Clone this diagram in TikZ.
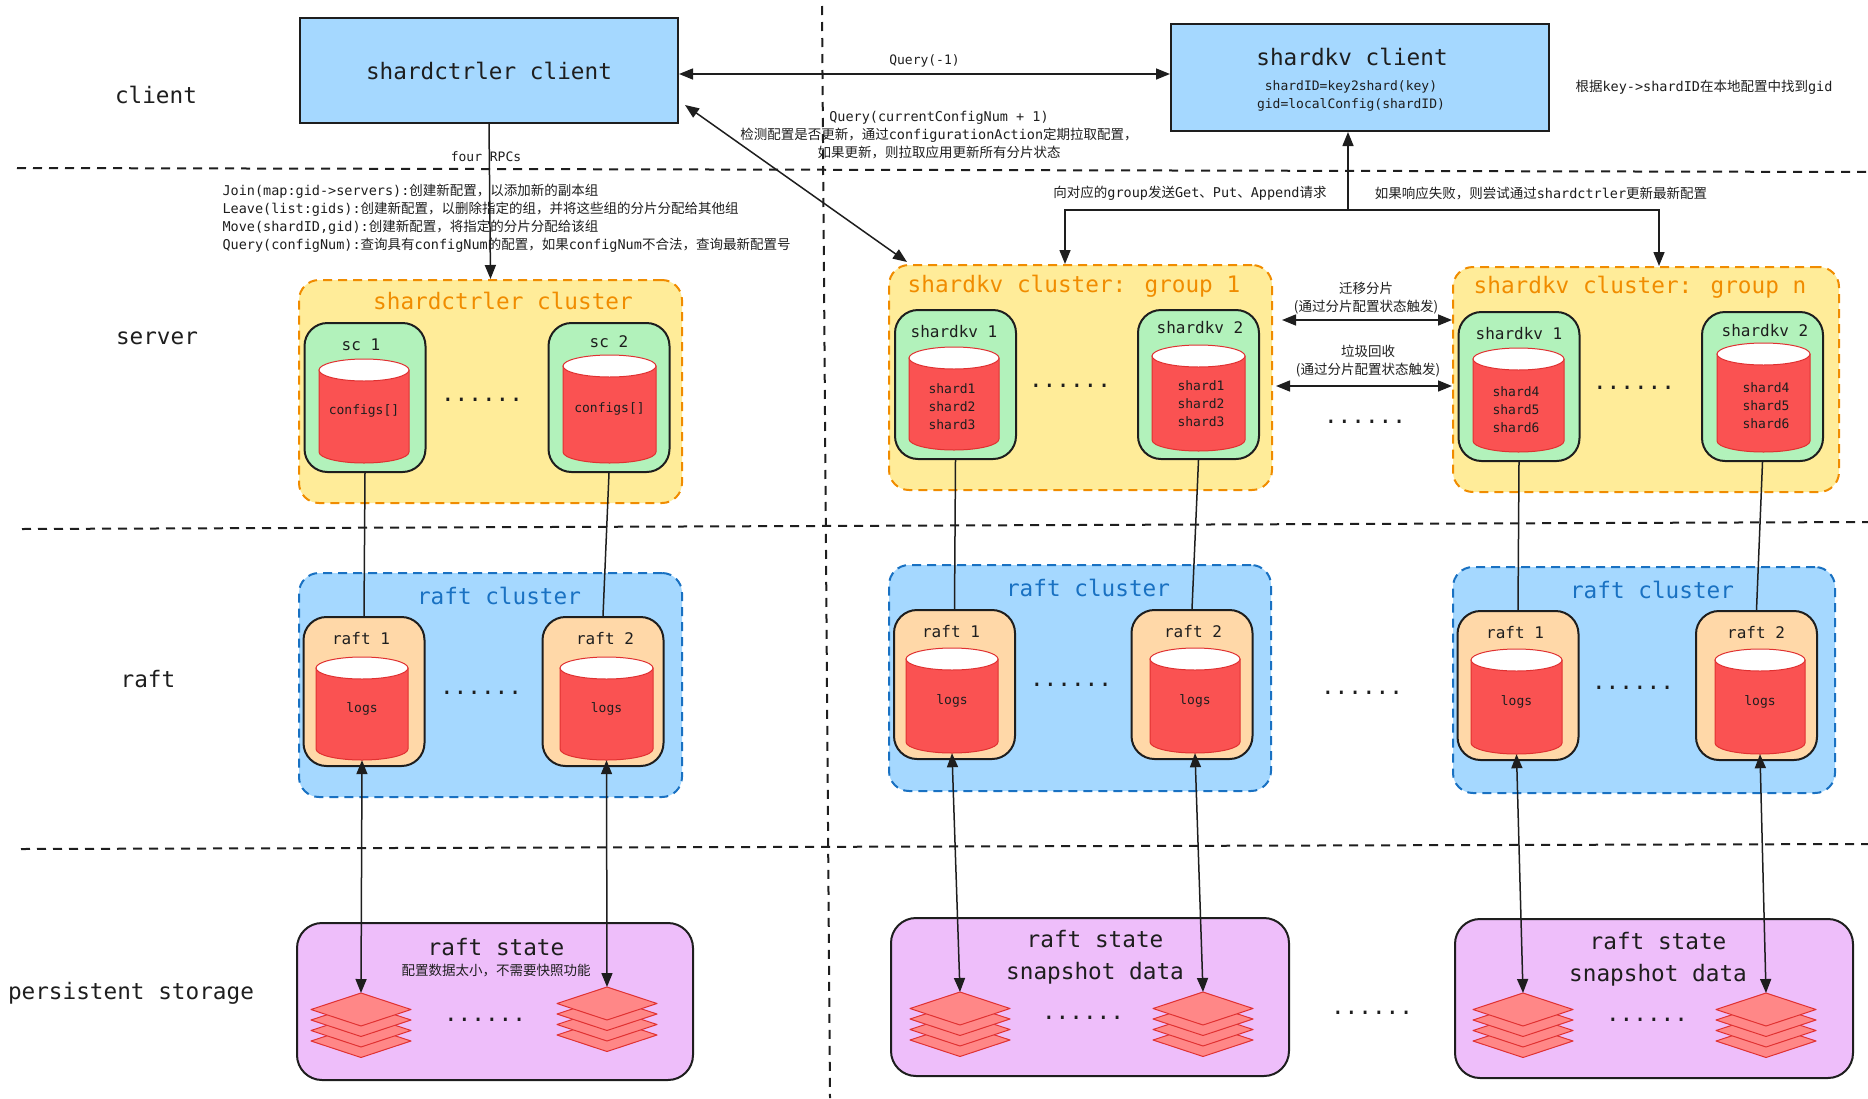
\documentclass[tikz,border=0pt]{standalone}
\usepackage{fontspec}
\setmainfont{DejaVu Sans Mono}
\newfontfamily\cjk{Noto Sans CJK SC}
\newcommand\zh[1]{{\cjk #1}}
\usetikzlibrary{positioning, arrows.meta}

\definecolor{ink}{HTML}{1E1E1E}
\definecolor{cliblue}{HTML}{A5D8FF}
\definecolor{clyellow}{HTML}{FFEC99}
\definecolor{clorange}{HTML}{F08C00}
\definecolor{srvgreen}{HTML}{B2F2BB}
\definecolor{rftblue}{HTML}{1971C2}
\definecolor{rftpeach}{HTML}{FFD8A8}
\definecolor{dbred}{HTML}{FA5252}
\definecolor{dbedge}{HTML}{E03131}
\definecolor{stlilac}{HTML}{EEBEFA}
\definecolor{layred}{HTML}{FF8787}

\tikzset{
x=1pt, y=-1pt, % one unit is one pixel of the sketch, y runs downwards
>={Triangle[length=14pt, width=11pt]}, % filled heads for every arrow
every node/.style={text=ink},
rowlbl/.style={font=\fontsize{22.7}{27}\selectfont}, % names of the rows on the left
head/.style={font=\fontsize{22.7}{32}\selectfont, align=center},
tag/.style={font=\fontsize{16}{19}\selectfont},
small/.style={font=\fontsize{13}{18}\selectfont, align=center},
note/.style={font=\fontsize{13.5}{18}\selectfont, align=center},
ellip/.style={font=\fontsize{22.7}{27}\selectfont},
rowline/.style={ink, line width=2pt, dash pattern=on 9pt off 7pt},
client/.style={draw=ink, line width=2pt, fill=cliblue, inner sep=0pt},
cluster/.style={draw=clorange, line width=2pt, dash pattern=on 9pt off 6pt, fill=clyellow, rounded corners=20pt, inner sep=0pt},
raftcl/.style={cluster, draw=rftblue, fill=cliblue},
member/.style={draw=ink, line width=2pt, fill=srvgreen, rounded corners=23pt, minimum width=121, minimum height=149, inner sep=0pt},
peer/.style={member, fill=rftpeach},
dbbody/.style={draw=dbedge, line width=1pt, fill=dbred},
dbtop/.style={draw=dbedge, line width=1pt, fill=white},
dbtext/.style={inner sep=0pt, font=\fontsize{13}{18}\selectfont, align=center},
disk/.style={draw=ink, line width=2pt, fill=stlilac, rounded corners=25pt, inner sep=0pt},
sheet/.style={draw=dbedge, line width=1pt, fill=layred, line join=round},
link/.style={draw=ink, line width=1.5pt},
}

% a red drum: name, x, y of its centre, width, height, text
\newcommand\drum[6]{%
  \draw[dbbody] (#2-#4/2,#3-#5/2+11) -- (#2-#4/2,#3+#5/2-11)
    arc[start angle=180, end angle=360, x radius=#4*0.5pt, y radius=11pt]
    -- (#2+#4/2,#3-#5/2+11) -- cycle;
  \draw[dbtop] (#2,#3-#5/2+11) ellipse[x radius=#4*0.5pt, y radius=11pt];
  \node[dbtext, minimum width=#4, minimum height=#5] (#1) at (#2,#3) {#6};
}

% a pile of four sheets, #3 names its top corner
\newcommand\sheets[3]{%
  \foreach \k in {3,2,1,0}
    \draw[sheet] (#1,#2+\k*10.5) -- ++(50,16.5) -- ++(-50,16.5) -- ++(-50,-16.5) -- cycle;
  \coordinate (#3) at (#1,#2);
}

\begin{document}
\begin{tikzpicture}
\useasboundingbox (0,0) rectangle (1868,1098);

% rows and columns
\draw[rowline] (17,168) -- (1868,172);
\draw[rowline] (22,529) -- (1868,522);
\draw[rowline] (21,849) -- (1868,844);
\draw[rowline] (822,6) -- (830,1098);

\node[rowlbl] (Lclient) at (156,95) {client};
\node[rowlbl] (Lserver) at (157,338) {server};
\node[rowlbl] (Lraft) at (148,679) {raft};
\node[rowlbl] (Lstore) at (131,993) {persistent storage};

% clients
\node[client, head, minimum width=378, minimum height=105] (SCC) at (489,70.5) {shardctrler client};
\node[client, minimum width=378, minimum height=107] (SKC) at (1360,77.5) {};
\node[head] (SKCt) at (1352,57) {shardkv client};
\node[small] (SKCf) at (1351,96) {shardID=key2shard(key)\\gid=localConfig(shardID)};
\node[note] (SKCn) at (1704,87) {\zh{根据}key->shardID\zh{在本地配置中找到}gid};

\draw[link, <->] ([yshift=-3.5pt]SCC.east) -- node[small, above=3pt] (Q1) {Query(-1)} ([yshift=3.5pt]SKC.west);

% shardctrler side
\node[cluster, minimum width=383, minimum height=223] (SCL) at (490.5,391.5) {};
\node[head, text=clorange] (SCLt) at (503,301) {shardctrler cluster};
\node[member] (sc1) at (365,397.5) {};
\node[tag] (sc1t) at (361,345) {sc 1};
\drum{cs1}{364}{411}{90}{104}{configs[]}
\node[member] (sc2) at (609,397.5) {};
\node[tag] (sc2t) at (609,342) {sc 2};
\drum{cs2}{609.5}{409}{93}{108}{configs[]}
\node[ellip] (SCLd) at (482,400) {......};

\draw[link, ->] (SCC.south) -- (SCL.north);
\node[small] (RPC) at (486,157) {four RPCs};
\node[note, align=left, anchor=west] (RPCs) at (219,218.5) {Join(map:gid->servers):\zh{创建新配置，以添加新的副本组}\\
Leave(list:gids):\zh{创建新配置，以删除指定的组，并将这些组的分片分配给其他组}\\
Move(shardID,gid):\zh{创建新配置，将指定的分片分配给该组}\\
Query(configNum):\zh{查询具有}configNum\zh{的配置，如果}configNum\zh{不合法，查询最新配置号}};

\node[raftcl, minimum width=383, minimum height=224] (RCL) at (490.5,685) {};
\node[head, text=rftblue] (RCLt) at (499,596) {raft cluster};
\node[peer] (rl1) at (364,691.5) {};
\node[tag] (rl1t) at (361,639) {raft 1};
\drum{lg1}{362}{708.5}{92}{103}{logs}
\node[peer] (rl2) at (603,691.5) {};
\node[tag] (rl2t) at (605,639) {raft 2};
\drum{lg2}{606.5}{708.5}{93}{103}{logs}
\node[ellip] (RCLd) at (481,693) {......};

\draw[link] (sc1.south) -- (rl1.north);
\draw[link] (sc2.south) -- (rl2.north);

\node[disk, minimum width=396, minimum height=157] (PSL) at (495,1001.5) {};
\node[head] (PSLt) at (496,947) {raft state};
\node[note] (PSLn) at (496,971) {\zh{配置数据太小，不需要快照功能}};
\sheets{361}{993}{sl1}
\sheets{607}{987}{sl2}
\node[ellip] (PSLd) at (485,1020) {......};
\draw[link, <->] (lg1.south) -- (sl1);
\draw[link, <->] (lg2.south) -- (sl2);

% shardctrler <-> group 1
\coordinate (Qa) at (685,105);
\coordinate (Qb) at (907,262);
\draw[link, <->] (Qa) -- (Qb);
\node[note] (Qtxt) at (939,135) {Query(currentConfigNum + 1)\\\zh{检测配置是否更新，通过}configurationAction\zh{定期拉取配置，}\\\zh{如果更新，则拉取应用更新所有分片状态}};

% group 1
\node[cluster, minimum width=383, minimum height=225] (G1) at (1080.5,377.5) {};
\node[head, text=clorange] (G1t) at (1074,286) {shardkv cluster: group 1};
\node[member] (k11) at (955.5,384.5) {};
\node[tag] (k11t) at (954,332) {shardkv 1};
\drum{c11}{954}{398.5}{90}{103}{}
\node[small] (t11) at (952,407) {shard1\\shard2\\shard3};
\node[member] (k12) at (1198.5,384.5) {};
\node[tag] (k12t) at (1200,328) {shardkv 2};
\drum{c12}{1198.5}{398}{93}{106}{}
\node[small] (t12) at (1201,404) {shard1\\shard2\\shard3};
\node[ellip] (G1d) at (1070,386) {......};

\node[raftcl, minimum width=382, minimum height=226] (RCM) at (1080,678) {};
\node[head, text=rftblue] (RCMt) at (1088,588) {raft cluster};
\node[peer] (r11) at (954.5,684.5) {};
\node[tag] (r11t) at (951,632) {raft 1};
\drum{g11}{952}{700.5}{92}{105}{logs}
\node[peer] (r12) at (1192,684.5) {};
\node[tag] (r12t) at (1193,632) {raft 2};
\drum{g12}{1195}{700.5}{90}{105}{logs}
\node[ellip] (RCMd) at (1071,685) {......};

\draw[link] (k11.south) -- (r11.north);
\draw[link] (k12.south) -- (r12.north);

\node[disk, minimum width=398, minimum height=158] (PSM) at (1090,997) {};
\node[head] (PSMt) at (1095,957) {raft state\\snapshot data};
\sheets{960}{992}{sm1}
\sheets{1203}{992}{sm2}
\node[ellip] (PSMd) at (1083,1018) {......};
\draw[link, <->] (g11.south) -- (sm1);
\draw[link, <->] (g12.south) -- (sm2);

% group n
\node[cluster, minimum width=386, minimum height=225] (GN) at (1646,379.5) {};
\node[head, text=clorange] (GNt) at (1640,287) {shardkv cluster: group n};
\node[member] (k21) at (1519,386.5) {};
\node[tag] (k21t) at (1519,334) {shardkv 1};
\drum{c21}{1518.5}{400}{91}{104}{}
\node[small] (t21) at (1516,410) {shard4\\shard5\\shard6};
\node[member] (k22) at (1762.5,386.5) {};
\node[tag] (k22t) at (1765,331) {shardkv 2};
\drum{c22}{1763.5}{397.5}{93}{109}{}
\node[small] (t22) at (1766,406) {shard4\\shard5\\shard6};
\node[ellip] (GNd) at (1634,388) {......};

\node[raftcl, minimum width=382, minimum height=226] (RCR) at (1644,680) {};
\node[head, text=rftblue] (RCRt) at (1652,590) {raft cluster};
\node[peer] (r21) at (1518,685.5) {};
\node[tag] (r21t) at (1515,633) {raft 1};
\drum{g21}{1516.5}{701.5}{91}{105}{logs}
\node[peer] (r22) at (1756.5,685.5) {};
\node[tag] (r22t) at (1756,633) {raft 2};
\drum{g22}{1760}{701.5}{90}{105}{logs}
\node[ellip] (RCRd) at (1633,688) {......};

\draw[link] (k21.south) -- (r21.north);
\draw[link] (k22.south) -- (r22.north);

\node[disk, minimum width=398, minimum height=159] (PSR) at (1654,998.5) {};
\node[head] (PSRt) at (1658,959) {raft state\\snapshot data};
\sheets{1523}{993}{sr1}
\sheets{1766}{993}{sr2}
\node[ellip] (PSRd) at (1647,1020) {......};
\draw[link, <->] (g21.south) -- (sr1);
\draw[link, <->] (g22.south) -- (sr2);

% between the groups
\draw[link, <->] ([xshift=9pt, yshift=57.5pt]G1.east) -- ([yshift=59.5pt]GN.west);
\draw[link, <->] ([xshift=3pt, yshift=-8.5pt]G1.east) -- ([yshift=-6.5pt]GN.west);
\node[note] (MV) at (1366,298.5) {\zh{迁移分片}\\\zh{(通过分片配置状态触发)}};
\node[note] (GC) at (1368,361) {\zh{垃圾回收}\\\zh{(通过分片配置状态触发)}};
\node[ellip] (GGd) at (1365,422) {......};
\node[ellip] (RRd) at (1362,693) {......};
\node[ellip] (PPd) at (1372,1013) {......};

% shardkv client fan-out
\coordinate (BR) at (1348,210);
\draw[link, ->] (BR) -- (BR |- SKC.south);
\draw[link, ->] (BR) -| ([xshift=-15.5pt]G1.north);
\draw[link, ->] (BR) -| ([xshift=13pt]GN.north);
\node[note] (BRl) at (1190,193) {\zh{向对应的}group\zh{发送}Get\zh{、}Put\zh{、}Append\zh{请求}};
\node[note] (BRr) at (1541,193) {\zh{如果响应失败，则尝试通过}shardctrler\zh{更新最新配置}};
\end{tikzpicture}
\end{document}
